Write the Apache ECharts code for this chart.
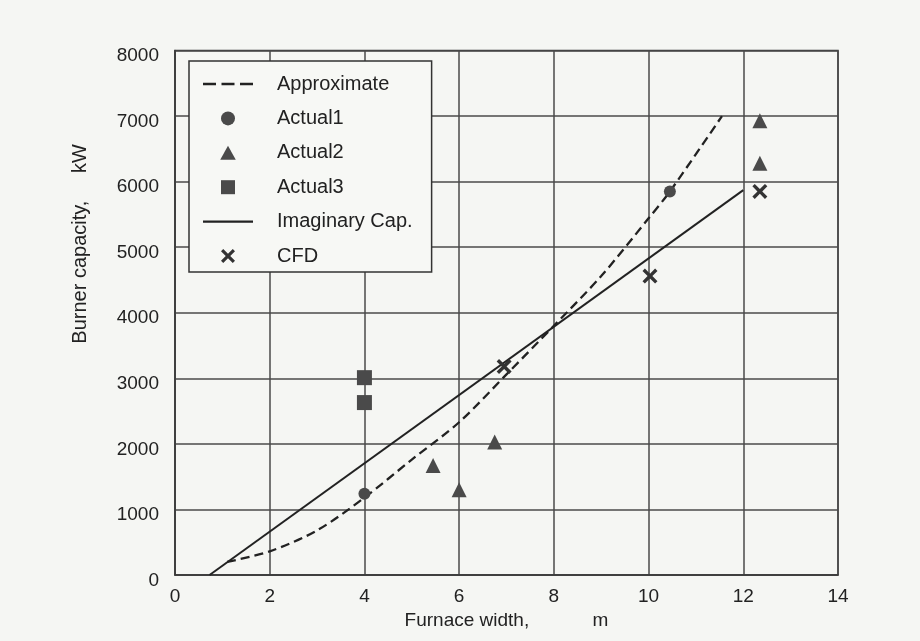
<!DOCTYPE html>
<html><head><meta charset="utf-8">
<script src="https://cdn.jsdelivr.net/npm/echarts@6/dist/echarts.min.js"></script>
<style>html,body{margin:0;padding:0;background:#f5f6f3;}#c{width:920px;height:641px;}</style>
</head><body><div id="c"></div>
<script>
// Data
const approximate = [[1.1,200],[2,360],[3,680],[4,1180],[5,1760],[6,2330],[7,3060],[8,3800],[9,4560],[10,5440],[10.45,5850],[11.55,7000]];
const actual1 = [[4,1240],[10.45,5850]];
const actual2 = [[5.45,1670],[6,1300],[6.75,2030],[12.35,6930],[12.35,6280]];
const actual3 = [[4,3010],[4,2630]];
const imaginaryCap = [[0.73,0],[12,5870]];
const cfd = [[6.95,3180],[10.03,4560],[12.35,5850]];
const seriesNames = ['Approximate','Actual1','Actual2','Actual3','Imaginary Cap.','CFD'];
const xTicks = {min:0,max:14,interval:2};
const yTicks = {min:0,max:8000,interval:1000};

const ink = '#222';
const markFill = '#4a4a4a';
const xPath = 'path://M0,1.6L1.6,0L5,3.4L8.4,0L10,1.6L6.6,5L10,8.4L8.4,10L5,6.6L1.6,10L0,8.4L3.4,5Z';
const triPath = 'path://M5,0L10,9L0,9Z';
const rectPath = 'path://M0,0h10v10h-10Z';
const dashIcon = 'path://M0,0h13v2.6h-13Z M18.5,0h13v2.6h-13Z M37,0h13v2.6h-13Z';
const solidIcon = 'path://M0,0h50v2.2h-50Z';
const font = '"Liberation Sans", Arial, sans-serif';

const chart = echarts.init(document.getElementById('c'), null, {renderer:'canvas'});
chart.setOption({
  backgroundColor:'#f5f6f3',
  animation:false,
  grid:{left:175,right:82,top:50.5,bottom:66,show:true,borderColor:'#3a3a3a',borderWidth:1.5,backgroundColor:'transparent'},
  xAxis:{type:'value',min:xTicks.min,max:xTicks.max,interval:xTicks.interval,
    name:'Furnace width,            m',nameLocation:'middle',nameGap:29,
    nameTextStyle:{fontFamily:font,fontSize:19,color:ink},
    axisLine:{show:true,lineStyle:{color:'#3a3a3a',width:1.5}},axisTick:{show:false},
    axisLabel:{fontFamily:font,fontSize:19,color:ink,margin:12},
    splitLine:{show:true,lineStyle:{color:'#4a4a4a',width:1.5}}},
  yAxis:{type:'value',min:yTicks.min,max:yTicks.max,interval:yTicks.interval,
    axisLine:{show:true,lineStyle:{color:'#3a3a3a',width:1.5}},axisTick:{show:false},
    axisLabel:{fontFamily:font,fontSize:19,color:ink,margin:16,verticalAlign:'top',padding:[-4,0,0,0],
      formatter:function(v){return String(v);}},
    splitLine:{show:true,lineStyle:{color:'#4a4a4a',width:1.5}}},
  graphic:[{type:'text',left:70,top:144,rotation:Math.PI/2,
    style:{text:'Burner capacity,     kW',fontFamily:font,fontSize:20,fill:ink}}],
  legend:{orient:'vertical',left:189,top:61,itemWidth:50,itemHeight:14,itemGap:14.4,
    symbolKeepAspect:true,
    padding:[13,19,6,14],backgroundColor:'#f7f8f5',borderColor:'#333',borderWidth:1.5,borderRadius:0,
    textStyle:{fontFamily:font,fontSize:20,color:ink,lineHeight:20,padding:[0,0,0,19]},
    data:[
      {name:seriesNames[0],icon:dashIcon},
      {name:seriesNames[1],icon:'circle'},
      {name:seriesNames[2],icon:triPath},
      {name:seriesNames[3],icon:rectPath},
      {name:seriesNames[4],icon:solidIcon},
      {name:seriesNames[5],icon:xPath}
    ]},
  series:[
    {name:seriesNames[0],type:'line',data:approximate,smooth:0.3,symbol:'none',
      lineStyle:{color:ink,width:2.3,type:[9,5]},itemStyle:{color:ink},z:3},
    {name:seriesNames[1],type:'scatter',data:actual1,symbol:'circle',symbolSize:12,
      itemStyle:{color:markFill,opacity:1},z:4},
    {name:seriesNames[2],type:'scatter',data:actual2,symbol:'triangle',symbolSize:15,
      itemStyle:{color:markFill,opacity:1},z:4},
    {name:seriesNames[3],type:'scatter',data:actual3,symbol:'rect',symbolSize:15,
      itemStyle:{color:markFill,opacity:1},z:4},
    {name:seriesNames[4],type:'line',data:imaginaryCap,symbol:'none',
      lineStyle:{color:ink,width:2},itemStyle:{color:ink},z:3},
    {name:seriesNames[5],type:'scatter',data:cfd,symbol:xPath,symbolSize:15,
      itemStyle:{color:'#333',opacity:1},z:4}
  ]
});
</script></body></html>
